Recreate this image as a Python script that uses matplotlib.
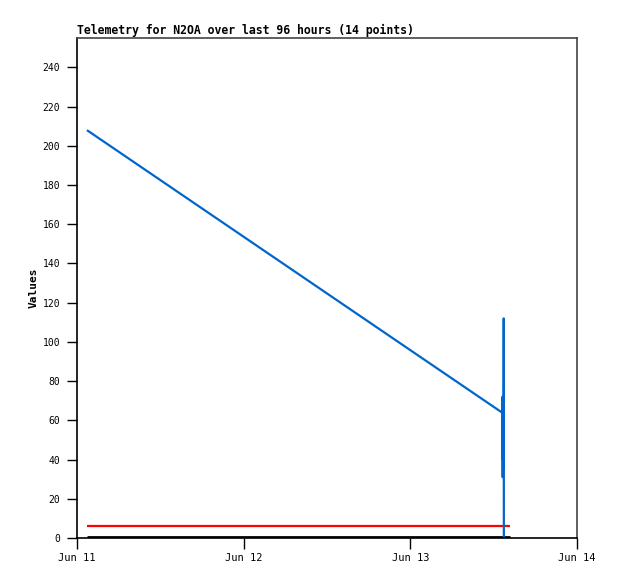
import matplotlib
matplotlib.use("Agg")
import matplotlib.pyplot as plt
import matplotlib.dates as mdates
import numpy as np
import pandas as pd

title = "Telemetry for N2OA over last 96 hours (14 points)"
ylabel = "Values"

blue_times = ["2024-06-11 01:26", "2024-06-13 13:12", "2024-06-13 13:16", "2024-06-13 13:18",
              "2024-06-13 13:19", "2024-06-13 13:20", "2024-06-13 13:21", "2024-06-13 13:22",
              "2024-06-13 13:23", "2024-06-13 13:24", "2024-06-13 13:25", "2024-06-13 13:26",
              "2024-06-13 13:27", "2024-06-13 13:28"]
blue_values = [208, 64, 72, 31, 68, 40, 70, 35, 60, 45, 65, 50, 112, 0]

limit_times = ["2024-06-11 01:26", "2024-06-13 14:21"]
red_values = [6, 6]
black_values = [0.3, 0.3]

x_ticks = ["2024-06-11", "2024-06-12", "2024-06-13", "2024-06-14"]
y_ticks = list(range(0, 241, 20))

fig = plt.figure(figsize=(6.18, 5.79), dpi=100)
ax = fig.add_axes([77/618, 41/579, 500/618, 500/579])

bt = pd.to_datetime(blue_times)
lt = pd.to_datetime(limit_times)
ax.plot(lt, black_values, color="black", lw=2.0, solid_capstyle="butt")
ax.plot(lt, red_values, color="#ff0000", lw=1.6, solid_capstyle="butt")
ax.plot(bt, blue_values, color="#0066cc", lw=1.6, solid_capstyle="butt")

ax.set_xlim(pd.Timestamp(x_ticks[0]), pd.Timestamp(x_ticks[-1]))
ax.set_ylim(0, 255)
ax.set_xticks(pd.to_datetime(x_ticks))
ax.xaxis.set_major_formatter(mdates.DateFormatter("%b %d"))
ax.set_yticks(y_ticks)

mono = "DejaVu Sans Mono"
for lab in ax.get_xticklabels():
    lab.set_fontfamily(mono)
    lab.set_fontsize(7.5)
for lab in ax.get_yticklabels():
    lab.set_fontfamily(mono)
    lab.set_fontsize(7)
ax.tick_params(axis="y", direction="out", length=7, width=1, color="black", pad=5)
ax.tick_params(axis="x", direction="out", length=8, width=1, color="black", pad=3)

ax.set_title(title, loc="left", fontfamily=mono, fontsize=8.3, fontweight="bold", pad=3)
ax.set_ylabel(ylabel, fontfamily=mono, fontsize=8, fontweight="bold")
ax.yaxis.set_label_coords(-0.076, 0.5)

for s in ["left", "bottom"]:
    ax.spines[s].set_color("black")
    ax.spines[s].set_linewidth(1.2)
for s in ["top", "right"]:
    ax.spines[s].set_color("#444444")
    ax.spines[s].set_linewidth(1.2)

fig.savefig("out.png", dpi=100)
